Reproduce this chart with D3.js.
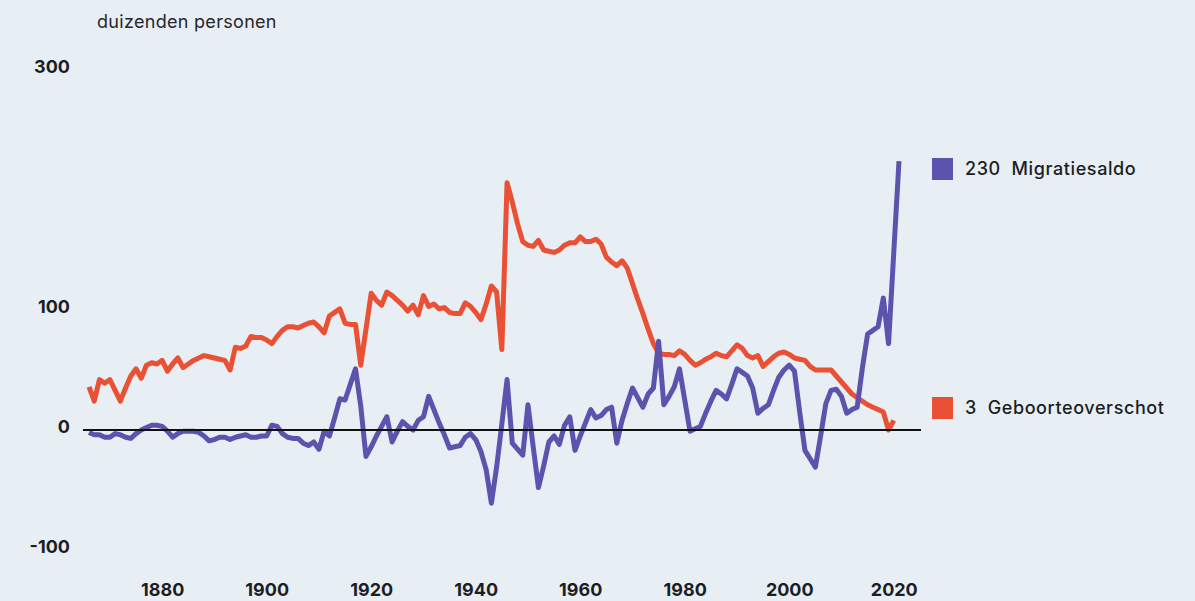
<!DOCTYPE html>
<html>
<head>
<meta charset="utf-8">
<script src="https://cdn.jsdelivr.net/npm/d3@7"></script>
<style>
  html, body { margin: 0; padding: 0; background: #e7eff4; }
  svg { display: block; font-family: Inter, "Noto Sans", sans-serif; }
</style>
</head>
<body>
<div class="linearchart"></div>
<script>
// Natuurlijke bevolkingsgroei en migratie, Nederland (duizenden personen)
const firstYear = 1866;

// migratiesaldo 1866-2021
const migratiesaldo = [
  -2, -4, -4, -6,
  -6, -3, -4, -6, -7, -3, 0, 2, 4, 4,
  3, -1, -6, -3, -1, -1, -1, -2, -5, -9,
  -8, -6, -6, -8, -6, -5, -4, -6, -6, -5,
  -5, 4, 3, -3, -6, -7, -7, -11, -13, -10,
  -16, -1, -5, 10, 26, 25, 38, 51, 20, -22,
  -14, -5, 3, 11, -10, -1, 7, 3, 0, 8,
  11, 28, 17, 6, -4, -15, -14, -13, -6, -3,
  -8, -18, -33, -61, -31, 5, 42, -11, -16, -21,
  21, -14, -48, -30, -10, -5, -12, 4, 11, -17,
  -5, 6, 17, 10, 12, 17, 19, -11, 8, 22,
  35, 27, 19, 30, 35, 74, 21, 28, 36, 51,
  25, -1, 1, 3, 14, 24, 33, 30, 26, 38,
  51, 48, 45, 35, 14, 18, 21, 33, 44, 50,
  54, 49, 15, -17, -24, -31, -5, 22, 33, 34,
  28, 14, 17, 19, 52, 80, 83, 86, 110, 72,
  148, 224
];

// geboorteoverschot 1866-2020
const geboorteoverschot = [
  36, 24, 42, 39,
  42, 33, 24, 35, 45, 51, 43, 54, 56, 55,
  58, 49, 55, 60, 52, 55, 58, 60, 62, 61,
  60, 59, 58, 50, 69, 68, 70, 78, 77, 77,
  75, 72, 78, 83, 86, 86, 85, 87, 89, 90,
  86, 81, 95, 98, 101, 89, 88, 88, 54, 84,
  114, 108, 104, 115, 112, 108, 104, 99, 104, 96,
  112, 103, 105, 101, 102, 98, 97, 97, 106, 103,
  98, 92, 105, 120, 115, 67, 206, 190, 172, 157,
  154, 153, 158, 150, 149, 148, 150, 154, 156, 156,
  161, 157, 157, 159, 155, 144, 140, 137, 141, 135,
  122, 109, 97, 84, 72, 64, 63, 63, 62, 66,
  63, 58, 54, 56, 59, 61, 64, 62, 61, 66,
  71, 68, 62, 60, 62, 53, 57, 61, 64, 65,
  63, 60, 59, 58, 53, 50, 50, 50, 50, 45,
  40, 35, 30, 27, 24, 21, 19, 17, 15, 0,
  8
];

const yTicks = [300, 100, 0, -100];
const xTicks = [1880, 1900, 1920, 1940, 1960, 1980, 2000, 2020];

const legendItems = [
  { label: '230  Migratiesaldo', color: '#5b53ad' },
  { label: '3  Geboorteoverschot', color: '#ea5034' }
];

const width = 1195;
const height = 601;

const svg = d3.select('.linearchart')
  .append('svg')
    .attr('width', width)
    .attr('height', height);

svg.append('rect')
  .attr('width', width)
  .attr('height', height)
  .attr('fill', '#e7eff4');

const x = d3.scaleLinear()
  .domain([1866, 2021])
  .range([89, 899]);

const y = d3.scaleLinear()
  .domain([-100, 300])
  .range([550, 70]);

// y axis: labels only
const yAxis = svg.append('g')
  .attr('transform', 'translate(70,0)')
  .call(d3.axisLeft(y).tickValues(yTicks).tickSize(0).tickPadding(0).tickFormat(d => String(d)));
yAxis.select('.domain').remove();
yAxis.selectAll('text')
  .attr('dy', '0.32em')
  .attr('y', -3)
  .attr('fill', '#1d1d24')
  .style('font-family', 'Inter, sans-serif')
  .style('font-size', '18px')
  .style('font-weight', 700);

// x axis: labels only
const xAxis = svg.append('g')
  .attr('transform', 'translate(0,590)')
  .call(d3.axisBottom(x).tickValues(xTicks).tickSize(0).tickPadding(0).tickFormat(d => String(d)));
xAxis.select('.domain').remove();
xAxis.selectAll('text')
  .attr('dy', '0.35em')
  .attr('y', 0)
  .attr('fill', '#1d1d24')
  .style('font-family', 'Inter, sans-serif')
  .style('font-size', '18px')
  .style('font-weight', 700);

// unit label
svg.append('text')
  .attr('x', 97)
  .attr('y', 28)
  .attr('fill', '#26262c')
  .style('font-size', '18px')
  .style('letter-spacing', '0.3px')
  .text('duizenden personen');

const line = d3.line()
  .x((d, i) => x(firstYear + i))
  .y(d => y(d));

svg.append('path')
  .datum(geboorteoverschot)
  .attr('fill', 'none')
  .attr('stroke', legendItems[1].color)
  .attr('stroke-width', 5)
  .attr('stroke-linejoin', 'round')
  .attr('d', line);

svg.append('path')
  .datum(migratiesaldo)
  .attr('fill', 'none')
  .attr('stroke', legendItems[0].color)
  .attr('stroke-width', 5)
  .attr('stroke-linejoin', 'round')
  .attr('d', line);

// zero line on top
svg.append('line')
  .attr('x1', 83)
  .attr('x2', 921)
  .attr('y1', y(0))
  .attr('y2', y(0))
  .attr('stroke', '#111')
  .attr('stroke-width', 2);

// legend next to the line ends
const legendY = [158, 397];
const legend = svg.selectAll('.legend')
  .data(legendItems)
  .enter().append('g')
    .attr('class', 'legend')
    .attr('transform', (d, i) => 'translate(932,' + legendY[i] + ')');

legend.append('rect')
  .attr('width', 21)
  .attr('height', 22)
  .attr('fill', d => d.color);

legend.append('text')
  .attr('x', 33)
  .attr('y', 11)
  .attr('dy', '0.35em')
  .attr('fill', '#1d1d24')
  .style('font-size', '18px')
  .style('font-weight', 500)
  .style('letter-spacing', '0.6px')
  .style('white-space', 'pre')
  .text(d => d.label);
</script>
</body>
</html>
